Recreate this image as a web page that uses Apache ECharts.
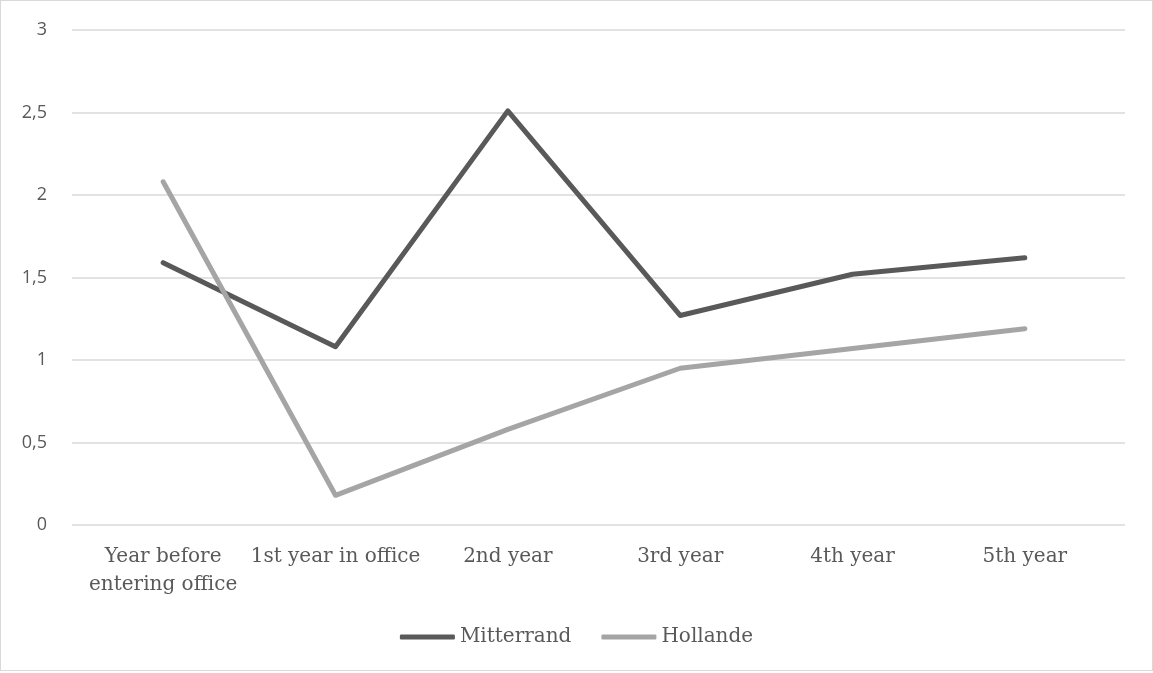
<!DOCTYPE html>
<html>
<head>
<meta charset="utf-8">
<script src="https://cdn.jsdelivr.net/npm/echarts@6/dist/echarts.min.js"></script>
<style>
html, body { margin: 0; padding: 0; background: #fff; }
#main { width: 1153px; height: 671px; border: 1px solid #d9d9d9; box-sizing: border-box; }
</style>
</head>
<body>
<div id="main"></div>
<script>
var categories = ['Year before\nentering office', '1st year in office', '2nd year', '3rd year', '4th year', '5th year'];
var mitterrand = [1.59, 1.08, 2.51, 1.27, 1.52, 1.62];
var hollande = [2.08, 0.18, 0.58, 0.95, 1.07, 1.19];

var myChart = echarts.init(document.getElementById('main'));
var option = {
	animation: false,
	// grid 0: value axis with gridlines, grid 1: the category axis and lines
	grid: [{
		left: 71,
		right: 27,
		top: 29,
		bottom: 145
	}, {
		left: 76,
		right: 41,
		top: 29,
		bottom: 145
	}],
	legend: {
		bottom: 18,
		left: 'center',
		itemWidth: 55,
		itemHeight: 5,
		itemGap: 30,
		icon: 'roundRect',
		textStyle: {
			fontFamily: 'DejaVu Serif',
			fontSize: 20,
			color: '#595959'
		},
		data: ['Mitterrand', 'Hollande']
	},
	xAxis: [{
		gridIndex: 0,
		type: 'value',
		show: false
	}, {
		gridIndex: 1,
		type: 'category',
		data: categories,
		axisLine: { show: false },
		axisTick: { show: false },
		axisLabel: {
			interval: 0,
			margin: 18,
			fontFamily: 'DejaVu Serif',
			fontSize: 20,
			lineHeight: 28,
			color: '#595959'
		}
	}],
	yAxis: [{
		gridIndex: 0,
		type: 'value',
		min: 0,
		max: 3,
		interval: 0.5,
		axisLine: { show: false },
		axisTick: { show: false },
		splitLine: { lineStyle: { color: '#d9d9d9', width: 1.5 } },
		axisLabel: {
			margin: 25,
			fontFamily: 'Open Sans',
			fontSize: 18,
			color: '#595959',
			formatter: function(v) {
				return String(v).replace('.', ',');
			}
		}
	}, {
		gridIndex: 1,
		type: 'value',
		min: 0,
		max: 3,
		show: false
	}],
	series: [{
		name: 'Mitterrand',
		type: 'line',
		xAxisIndex: 1,
		yAxisIndex: 1,
		data: mitterrand,
		symbol: 'none',
		color: '#595959',
		lineStyle: { width: 5, color: '#595959', cap: 'round', join: 'round' }
	}, {
		name: 'Hollande',
		type: 'line',
		xAxisIndex: 1,
		yAxisIndex: 1,
		data: hollande,
		symbol: 'none',
		color: '#a5a5a5',
		lineStyle: { width: 5, color: '#a5a5a5', cap: 'round', join: 'round' }
	}]
};
myChart.setOption(option);
</script>
</body>
</html>
